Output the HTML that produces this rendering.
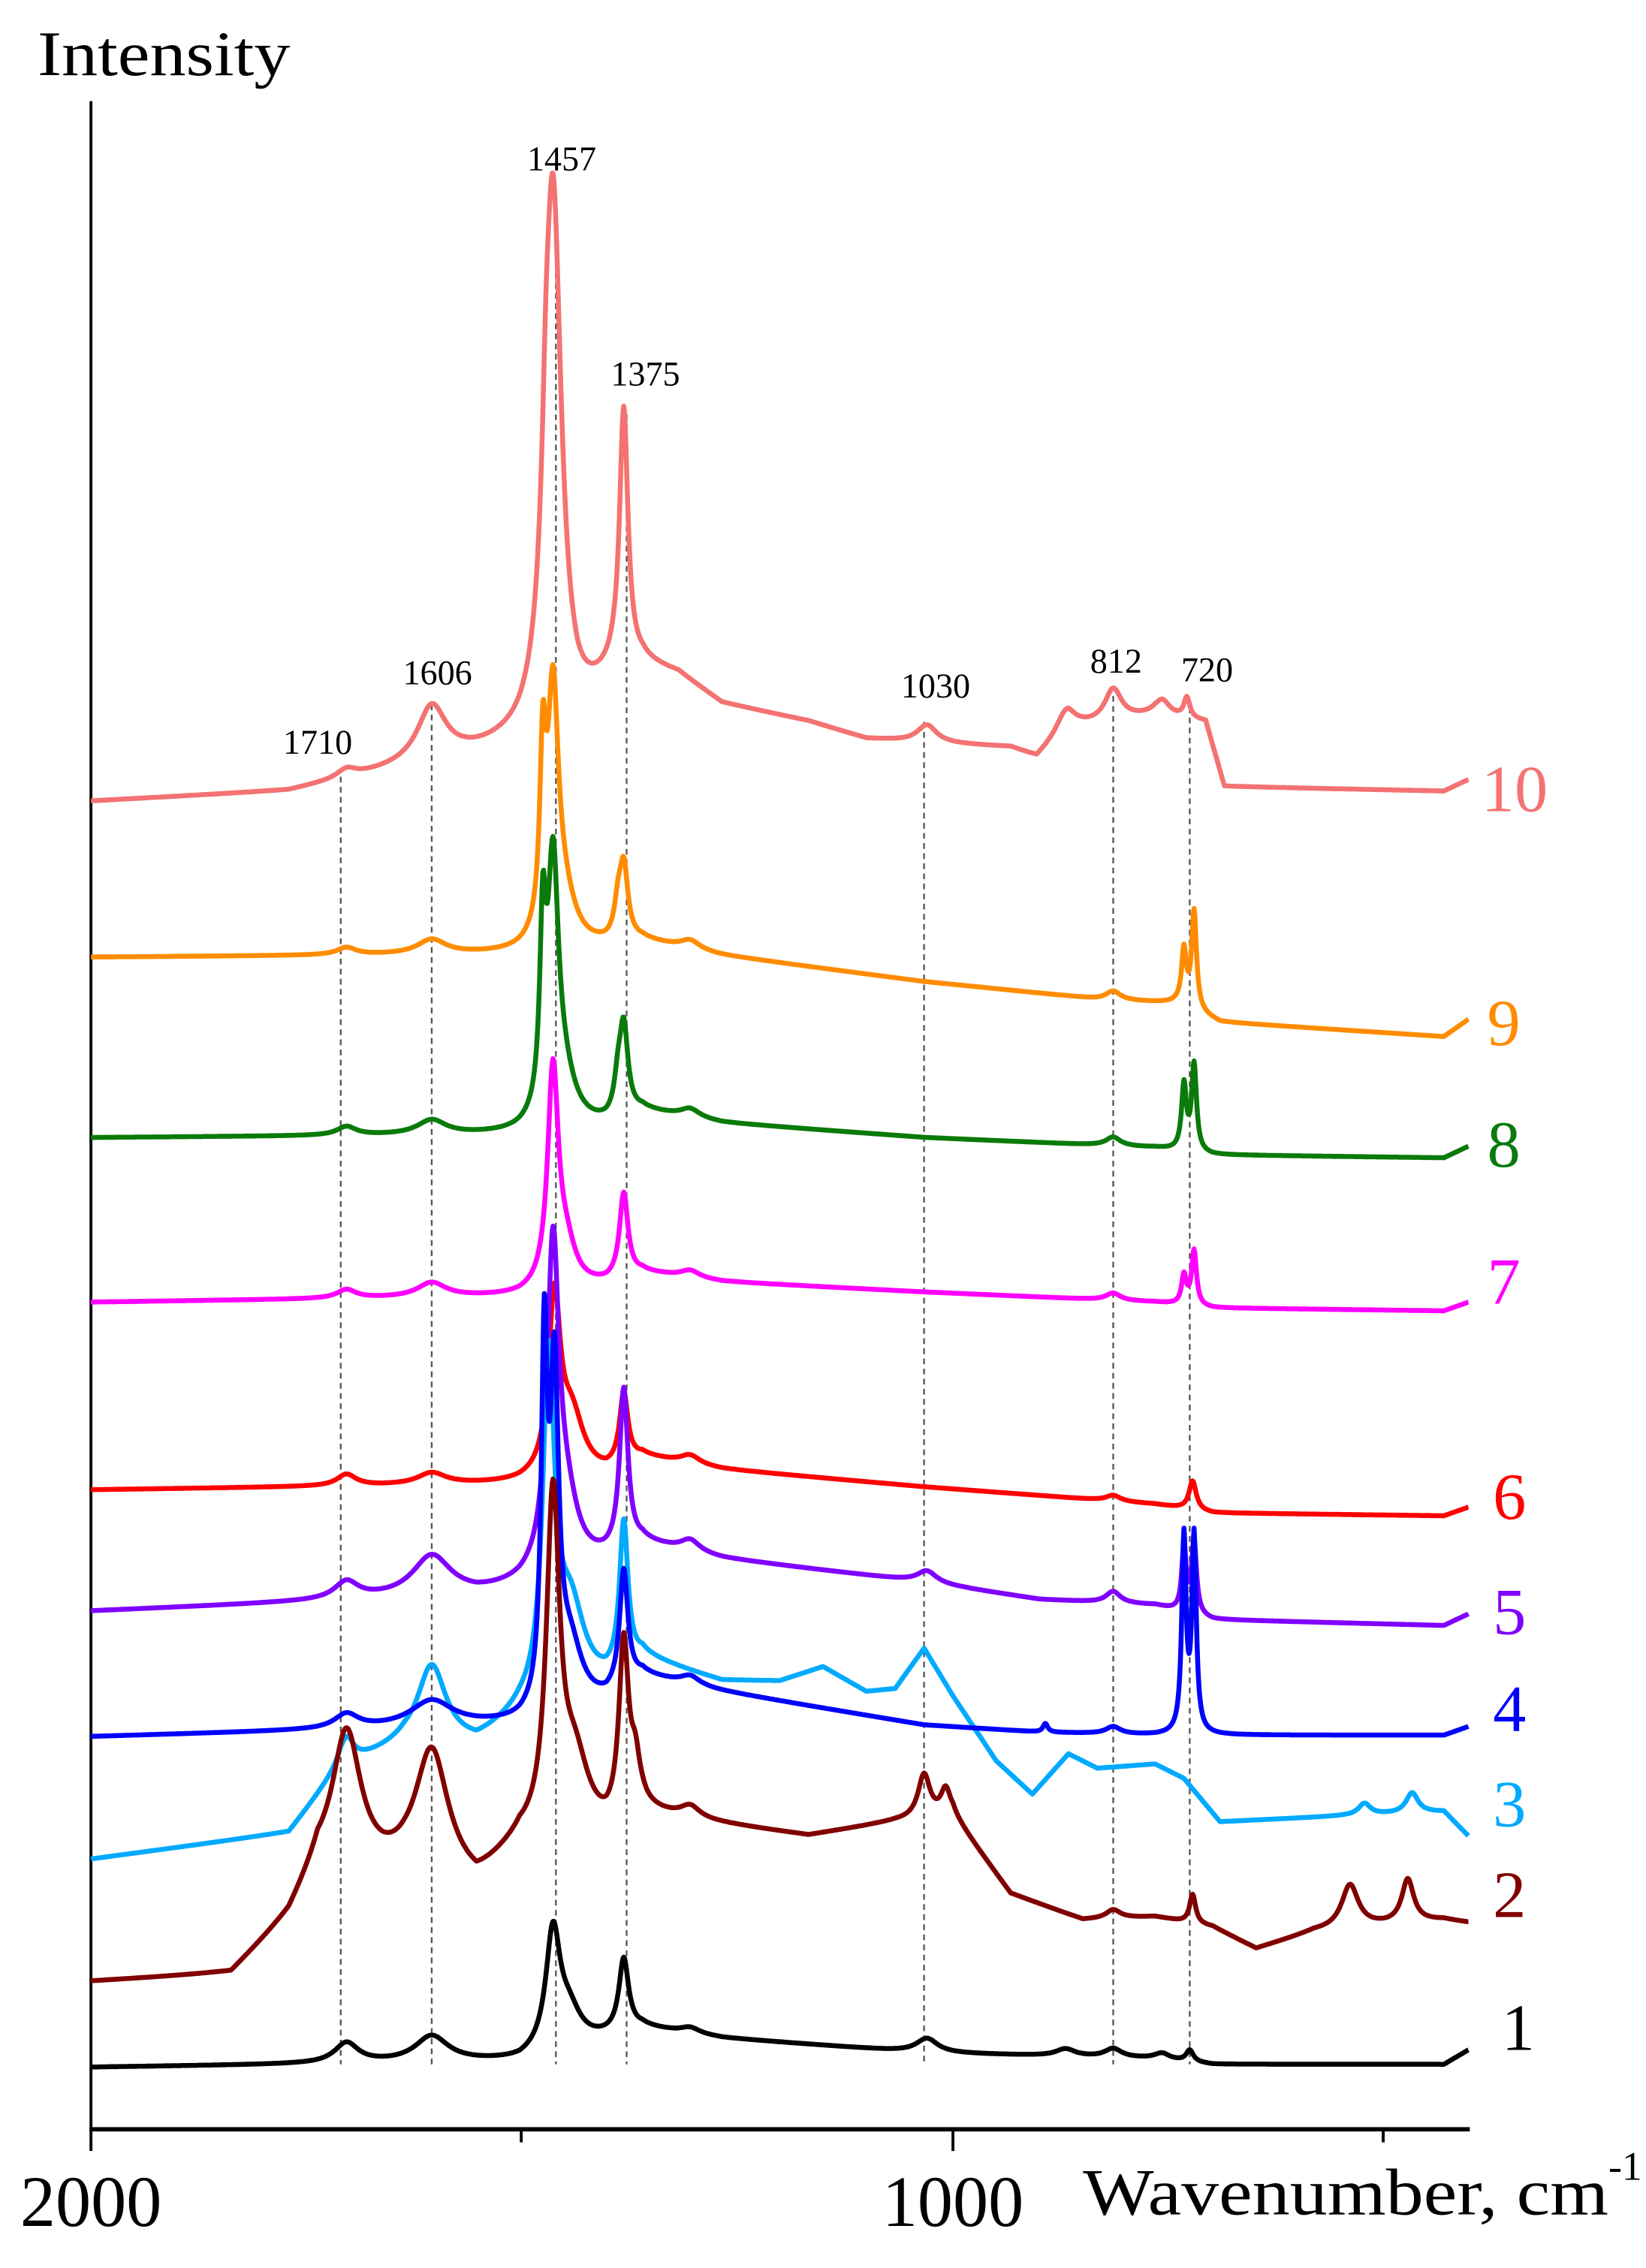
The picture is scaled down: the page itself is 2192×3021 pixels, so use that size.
<!DOCTYPE html>
<html><head><meta charset="utf-8"><style>
html,body{margin:0;padding:0;background:#fff;}
svg{display:block;}
text{font-family:"Liberation Serif",serif;}
</style></head><body>
<svg id="s" width="2192" height="3021" viewBox="0 0 1140 1571" xmlns="http://www.w3.org/2000/svg">
<text x="26" y="52" font-size="44" textLength="175" lengthAdjust="spacingAndGlyphs">Intensity</text>
<g stroke="#000" stroke-width="2" fill="none">
<line x1="63" y1="70" x2="63" y2="1490"/>
<line x1="62" y1="1475" x2="1018" y2="1475" stroke-width="3"/>
<line x1="361" y1="1475" x2="361" y2="1484"/>
<line x1="660" y1="1475" x2="660" y2="1490"/>
<line x1="958" y1="1475" x2="958" y2="1484"/>
</g>
<text x="63" y="1542" font-size="50" text-anchor="middle" textLength="98" lengthAdjust="spacingAndGlyphs">2000</text>
<text x="660" y="1542" font-size="50" text-anchor="middle" textLength="98" lengthAdjust="spacingAndGlyphs">1000</text>
<text x="750" y="1534" font-size="46" textLength="364" lengthAdjust="spacingAndGlyphs">Wavenumber, cm</text>
<text x="1114" y="1510" font-size="28">-1</text>
<g id="dash" stroke="#555" stroke-width="1.2" stroke-dasharray="4,3" fill="none">
<line x1="236" y1="538" x2="236" y2="1430"/>
<line x1="299" y1="488" x2="299" y2="1430"/>
<line x1="385" y1="140" x2="385" y2="1430"/>
<line x1="434" y1="287" x2="434" y2="1430"/>
<line x1="640" y1="500" x2="640" y2="1430"/>
<line x1="771" y1="482" x2="771" y2="1430"/>
<line x1="824" y1="490" x2="824" y2="1430"/>
</g>
<g font-size="24" text-anchor="middle">
<text x="389" y="118">1457</text>
<text x="447" y="267">1375</text>
<text x="303" y="474">1606</text>
<text x="220" y="522">1710</text>
<text x="648" y="483">1030</text>
<text x="773" y="466">812</text>
<text x="836" y="472">720</text>
</g>
<g id="curves" fill="none" stroke-width="3.4" stroke-linejoin="round"></g>
<g font-size="46">
<text x="1026" y="562" fill="#f47272">10</text>
<text x="1030" y="724" fill="#ff8c00">9</text>
<text x="1030" y="808" fill="#0a7a0a">8</text>
<text x="1030" y="903" fill="#ff00ff">7</text>
<text x="1034" y="1052" fill="#ff0000">6</text>
<text x="1034" y="1132" fill="#8000ff">5</text>
<text x="1034" y="1199" fill="#0000ff">4</text>
<text x="1034" y="1265" fill="#00aaff">3</text>
<text x="1034" y="1328" fill="#800000">2</text>
<text x="1040" y="1420" fill="#000">1</text>
</g>
</svg>
<script>
var C=[
{c:"#f47272",b:[[63,555],[200,548],[280,532],[330,522],[360,515],[400,500],[425,470],[445,462],[470,468],[500,488],[560,500],[600,512],[700,518],[718,525],[740,505],[800,495],[835,500],[848,545],[1000,548],[1017,540]],
p:[[240,6,8],[299,38,12],[383,370,7],[378,55,3],[432,178,3.5],[642,12,8],[738,14,8],[771,22,7],[805,10,6],[822,14,2.5]]},
{c:"#ff8c00",b:[[63,663],[360,661],[420,656],[445,652],[500,662],[640,680],[760,692],[815,695],[845,708],[1000,718],[1017,706]],
p:[[240,5,8],[299,10,12],[383,165,4.5],[376,115,2.5],[390,30,10],[432,50,3.5],[428,20,3],[478,6,8],[771,6,6],[820,38,2],[827,68,2]]},
{c:"#0a7a0a",b:[[63,788],[360,786],[420,780],[445,770],[500,778],[640,788],[800,795],[840,800],[1000,802],[1017,794]],
p:[[240,6,8],[299,10,12],[383,170,4.5],[376,120,2.5],[390,30,10],[432,60,3.5],[428,20,3],[478,6,8],[771,6,6],[820,45,2],[827,60,2]]},
{c:"#ff00ff",b:[[63,902],[360,898],[420,890],[445,882],[500,888],[640,895],[800,902],[840,906],[1000,908],[1017,902]],
p:[[240,6,8],[299,10,12],[383,150,4.5],[392,25,8],[432,58,3.5],[478,5,8],[771,5,6],[820,20,2],[827,38,2]]},
{c:"#ff0000",b:[[63,1032],[360,1028],[420,1022],[445,1010],[500,1018],[640,1030],[800,1042],[840,1048],[1000,1050],[1017,1044]],
p:[[240,8,8],[299,8,12],[384,120,5],[396,40,10],[432,48,3.5],[478,6,8],[771,4,6],[826,20,3]]},
{c:"#8000ff",b:[[63,1116],[330,1105],[360,1100],[420,1082],[445,1070],[500,1080],[640,1096],[720,1108],[800,1112],[840,1122],[1000,1126],[1017,1118]],
p:[[240,12,10],[299,28,16],[383,220,5],[392,40,10],[432,110,3.5],[478,8,8],[642,8,8],[771,8,6],[820,45,1.8],[827,50,2]]},
{c:"#00aaff",b:[[63,1288],[200,1270],[236,1225],[280,1210],[330,1210],[360,1190],[420,1170],[445,1150],[500,1165],[540,1165],[570,1155],[600,1172],[620,1170],[640,1142],[660,1175],[690,1220],[715,1243],[740,1215],[760,1225],[800,1222],[820,1232],[845,1262],[930,1258],[1000,1255],[1017,1272]],
p:[[240,18,6],[299,55,12],[380,230,5],[395,60,12],[432,100,3.5],[945,8,5],[978,14,5]]},
{c:"#0000ff",b:[[63,1203],[360,1195],[420,1180],[445,1162],[500,1172],[640,1195],[720,1200],[800,1202],[845,1202],[1000,1202],[1017,1196]],
p:[[240,10,10],[299,18,18],[377,240,2.5],[384,220,3.5],[395,40,10],[432,80,3.5],[478,6,8],[724,6,2],[771,5,6],[820,135,1.8],[827,135,1.8]]},
{c:"#800000",b:[[63,1373],[160,1368],[200,1330],[220,1295],[265,1300],[280,1300],[330,1310],[360,1280],[420,1275],[445,1258],[480,1262],[560,1272],[620,1262],[660,1258],[700,1312],[750,1330],[800,1328],[840,1335],[870,1350],[910,1338],[1000,1330],[1017,1332]],
p:[[240,95,12],[299,88,14],[383,230,5.5],[398,50,12],[432,120,4],[440,30,4],[478,8,8],[640,30,5],[655,18,4],[771,6,6],[826,20,2.5],[935,30,7],[975,30,5]]},
{c:"#000",b:[[63,1432],[360,1428],[420,1412],[445,1405],[500,1412],[640,1422],[800,1426],[840,1430],[1000,1430],[1017,1420]],
p:[[240,14,10],[299,18,14],[383,80,6],[394,22,10],[432,50,4],[478,4,8],[642,10,9],[738,5,8],[771,6,7],[805,4,6],[824,8,3]]}
];
function base(b,x){for(var i=0;i<b.length-1;i++){if(x<=b[i+1][0]){var t=(x-b[i][0])/(b[i+1][0]-b[i][0]);return b[i][1]+t*(b[i+1][1]-b[i][1]);}}return b[b.length-1][1];}
var g=document.getElementById("curves"),h="";
C.forEach(function(s){var d="";for(var x=63;x<=1017;x+=0.5){var y=base(s.b,x);s.p.forEach(function(p){var u=(x-p[0])/p[2];y-=p[1]/(1+u*u);});d+=(x==63?"M":"L")+x+","+y.toFixed(1);}h+='<path stroke="'+s.c+'" d="'+d+'"/>';});
g.innerHTML=h;
</script>
</body></html>
